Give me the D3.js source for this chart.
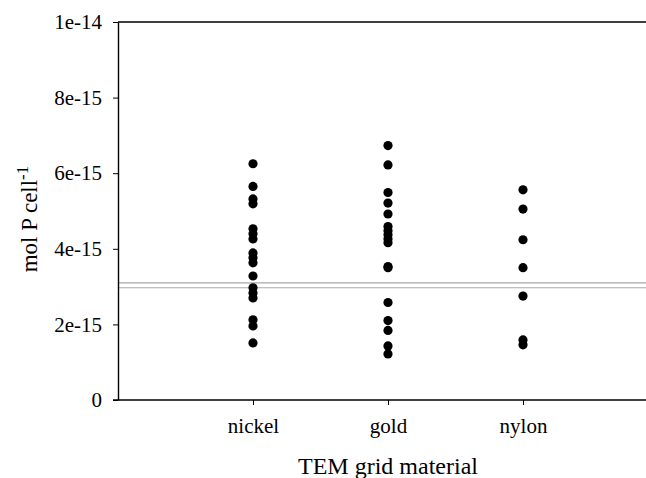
<!DOCTYPE html>
<html>
<head>
<meta charset="utf-8">
<script src="https://cdn.jsdelivr.net/npm/d3@7"></script>
<style>
  body { margin: 0; background: #fff; }
  svg { display: block; }
  text { font-family: "Liberation Serif", "Times New Roman", serif; }
</style>
</head>
<body>
<svg id="chart" width="646" height="478"></svg>
<script>
// categories and values (mol P per cell)
var categories = ["nickel", "gold", "nylon"];
var nickel = [6.25e-15, 5.65e-15, 5.32e-15, 5.19e-15, 4.53e-15, 4.40e-15, 4.26e-15, 3.89e-15, 3.76e-15,
  3.63e-15, 3.28e-15, 2.97e-15, 2.83e-15, 2.70e-15, 2.12e-15, 1.96e-15, 1.51e-15];
var gold = [6.73e-15, 6.22e-15, 5.49e-15, 5.21e-15, 4.92e-15, 4.59e-15, 4.48e-15, 4.37e-15, 4.26e-15,
  4.16e-15, 3.53e-15, 3.50e-15, 2.58e-15, 2.10e-15, 1.84e-15, 1.43e-15, 1.22e-15];
var nylon = [5.56e-15, 5.05e-15, 4.24e-15, 3.50e-15, 2.75e-15, 1.59e-15, 1.46e-15];
var refLines = [3.10e-15, 2.97e-15];
var yTicks = [0, 2e-15, 4e-15, 6e-15, 8e-15, 1e-14];
var yTickLabels = ["0", "2e-15", "4e-15", "6e-15", "8e-15", "1e-14"];

var svg = d3.select("#chart"),
  MARGINS = { top: 22, left: 118, bottom: 400, right: 658 };

var x = d3.scaleLinear().domain([0, 4]).range([MARGINS.left, MARGINS.right]);
var y = d3.scaleLinear().domain([0, 1e-14]).range([MARGINS.bottom, MARGINS.top]);

// reference lines
svg.selectAll("line.ref").data(refLines).enter().append("line")
  .attr("class", "ref")
  .attr("x1", x(0)).attr("x2", x(4))
  .attr("y1", function(d) { return y(d); })
  .attr("y2", function(d) { return y(d); })
  .attr("stroke", "#a8a8a8").attr("stroke-width", 1.2);

// top frame line
svg.append("line")
  .attr("x1", x(0)).attr("x2", x(4))
  .attr("y1", y(1e-14)).attr("y2", y(1e-14))
  .attr("stroke", "#000").attr("stroke-width", 1.3);

var xAxis = d3.axisBottom(x).tickValues([1, 2, 3])
  .tickFormat(function(d) { return categories[d - 1]; })
  .tickSize(5).tickSizeOuter(0).tickPadding(13);
var yAxis = d3.axisLeft(y).tickValues(yTicks)
  .tickFormat(function(d, i) { return yTickLabels[i]; })
  .tickSize(5).tickSizeOuter(0).tickPadding(11);

var gx = svg.append("g")
  .attr("transform", "translate(0," + MARGINS.bottom + ")")
  .call(xAxis);
var gy = svg.append("g")
  .attr("transform", "translate(" + MARGINS.left + ",0)")
  .call(yAxis);

[gx, gy].forEach(function(g) {
  g.select(".domain").attr("stroke", "#000").attr("stroke-width", 1.4);
  g.selectAll(".tick line").attr("stroke", "#000").attr("stroke-width", 1);
  g.selectAll(".tick text").attr("fill", "#000")
    .style("font-family", "'Liberation Serif', serif").style("font-size", "21px");
});
// extend x axis line left under the y ticks
gx.select(".domain").attr("d", "M" + (MARGINS.left - 5) + ",0H" + x(4));

// points
var series = [nickel, gold, nylon];
series.forEach(function(vals, i) {
  svg.selectAll("circle.s" + i).data(vals).enter().append("circle")
    .attr("class", "s" + i)
    .attr("cx", x(i + 1))
    .attr("cy", function(d) { return y(d); })
    .attr("r", 4.6)
    .attr("fill", "#000");
});

// axis titles
svg.append("text")
  .attr("x", x(2)).attr("y", 474)
  .attr("text-anchor", "middle")
  .style("font-size", "24px")
  .text("TEM grid material");

var yl = svg.append("text")
  .attr("transform", "translate(37," + 219 + ") rotate(-90)")
  .attr("text-anchor", "middle")
  .style("font-size", "23px");
yl.append("tspan").text("mol P cell");
yl.append("tspan").attr("dy", -9).style("font-size", "17px").text("-1");
</script>
</body>
</html>
